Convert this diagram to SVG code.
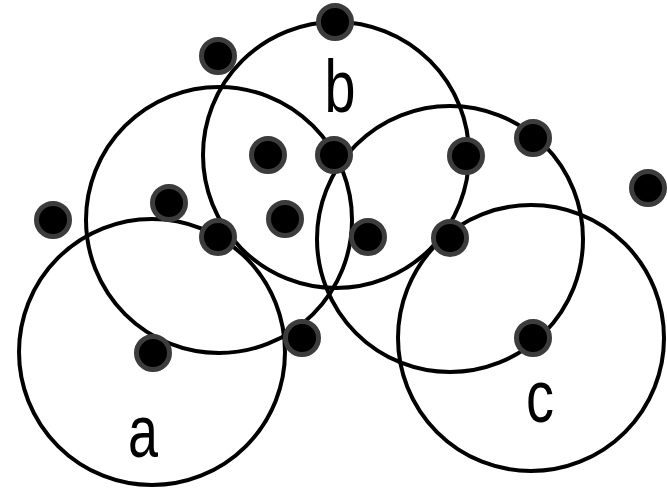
<svg xmlns="http://www.w3.org/2000/svg" width="667" height="491" viewBox="0 0 667 491">
<style>
.ring{fill:none;stroke:#000;stroke-width:4}
.dot{fill:#000;stroke:#3c3c3c;stroke-width:5}
.lbl{font-family:"Liberation Sans",Arial,sans-serif;font-size:74px;fill:#000;text-anchor:middle}
</style>
<rect width="667" height="491" fill="#fff"/>
<g id="circles">
<circle id="circle-a" class="ring" cx="152" cy="352" r="133"/>
<circle id="circle-d" class="ring" cx="219" cy="220" r="133"/>
<circle id="circle-b" class="ring" cx="336" cy="155" r="133"/>
<circle id="circle-e" class="ring" cx="450" cy="239" r="133"/>
<circle id="circle-c" class="ring" cx="531" cy="338" r="133"/>
</g>
<g id="dots">
<circle class="dot" cx="335" cy="22" r="16.5"/>
<circle class="dot" cx="218" cy="56" r="16.5"/>
<circle class="dot" cx="268" cy="155" r="16.5"/>
<circle class="dot" cx="334" cy="155" r="16.5"/>
<circle class="dot" cx="466" cy="156" r="16.5"/>
<circle class="dot" cx="533" cy="138" r="16.5"/>
<circle class="dot" cx="648" cy="188" r="16.5"/>
<circle class="dot" cx="53" cy="220" r="16.5"/>
<circle class="dot" cx="169" cy="203" r="16.5"/>
<circle class="dot" cx="218" cy="237" r="16.5"/>
<circle class="dot" cx="285" cy="219" r="16.5"/>
<circle class="dot" cx="368" cy="237" r="16.5"/>
<circle class="dot" cx="450" cy="238" r="16.5"/>
<circle class="dot" cx="153" cy="353" r="16.5"/>
<circle class="dot" cx="302" cy="338" r="16.5"/>
<circle class="dot" cx="533" cy="338" r="16.5"/>
</g>
<g id="labels">
<text class="lbl" x="340" y="112" textLength="31" lengthAdjust="spacingAndGlyphs">b</text>
<text class="lbl" x="143" y="457" textLength="30" lengthAdjust="spacingAndGlyphs">a</text>
<text class="lbl" x="540" y="422" textLength="28" lengthAdjust="spacingAndGlyphs">c</text>
</g>
</svg>
